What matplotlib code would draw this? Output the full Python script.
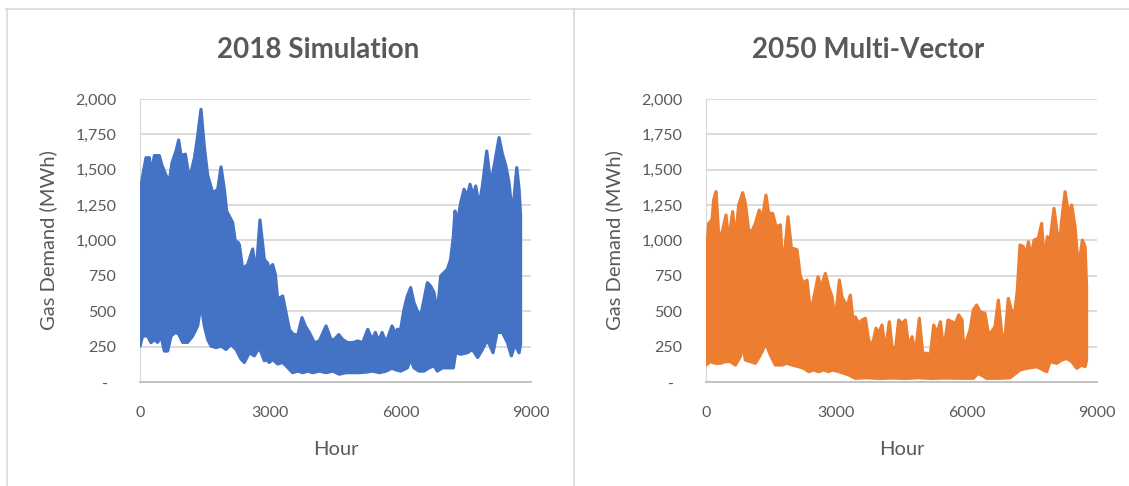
import numpy as np
import matplotlib.pyplot as plt
from matplotlib.lines import Line2D

plt.rcParams['font.family'] = ['Lato', 'DejaVu Sans']

# Envelope of the hourly gas demand (hour, MWh)
sim_upper_hours = [0, 30, 61, 138, 215, 260, 330, 445, 506, 599, 675, 737, 829, 890, 944, 1044, 1136, 1251,
                   1327, 1404, 1481, 1558, 1673, 1788, 1865, 1942, 1995, 2133, 2210, 2250, 2287, 2363, 2479,
                   2594, 2670, 2762, 2862, 2939, 2977, 3053, 3115, 3169, 3284, 3361, 3438, 3514, 3630, 3729,
                   3806, 3898, 4013, 4128, 4282, 4397, 4474, 4574, 4666, 4781, 4896, 5011, 5126, 5242, 5342,
                   5418, 5495, 5572, 5664, 5801, 5893, 5924, 6000, 6077, 6154, 6230, 6307, 6384, 6460, 6538,
                   6614, 6691, 6768, 6844, 6921, 6998, 7075, 7151, 7213, 7251, 7305, 7382, 7459, 7536, 7597,
                   7674, 7728, 7804, 7881, 7981, 8073, 8165, 8265, 8342, 8419, 8495, 8572, 8672, 8726, 8760]
sim_upper = [1314, 1400, 1456, 1585, 1585, 1470, 1600, 1600, 1530, 1460, 1420, 1550, 1632, 1710, 1600, 1610,
             1435, 1580, 1738, 1927, 1660, 1460, 1338, 1360, 1520, 1360, 1208, 1126, 961, 990, 970, 800, 830,
             940, 760, 1145, 865, 840, 800, 830, 760, 584, 608, 490, 372, 340, 330, 455, 395, 350, 278, 290,
             396, 300, 300, 335, 300, 278, 278, 290, 278, 372, 300, 350, 290, 350, 278, 396, 335, 372, 372,
             514, 608, 667, 560, 502, 467, 584, 702, 678, 632, 490, 749, 773, 796, 867, 1032, 1208, 1126,
             1267, 1362, 1315, 1397, 1315, 1385, 1245, 1385, 1632, 1397, 1550, 1727, 1610, 1530, 1408, 1173,
             1515, 1362, 1173]
sim_lower_hours = [0, 61, 176, 253, 330, 406, 483, 560, 637, 714, 813, 890, 982, 1097, 1212, 1327, 1404, 1481,
                   1558, 1634, 1750, 1865, 1980, 2095, 2210, 2325, 2402, 2517, 2632, 2747, 2862, 2900, 2977,
                   3053, 3169, 3284, 3361, 3514, 3630, 3745, 3860, 3975, 4128, 4282, 4436, 4589, 4743, 4896,
                   5050, 5203, 5357, 5510, 5664, 5817, 5847, 6000, 6154, 6230, 6307, 6422, 6538, 6653, 6768,
                   6844, 6960, 7075, 7213, 7267, 7382, 7536, 7651, 7773, 7881, 7958, 8027, 8126, 8219, 8342,
                   8458, 8549, 8626, 8726, 8760]
sim_lower = [254, 325, 325, 278, 300, 280, 325, 219, 219, 325, 350, 340, 280, 280, 325, 396, 550, 396, 300,
             254, 243, 254, 230, 266, 230, 162, 138, 207, 185, 243, 150, 160, 138, 160, 127, 138, 115, 66, 77,
             66, 77, 66, 77, 66, 77, 55, 66, 66, 66, 70, 77, 66, 77, 100, 90, 77, 100, 160, 100, 77, 77, 100,
             115, 77, 100, 100, 100, 207, 196, 207, 230, 173, 230, 278, 278, 207, 350, 350, 278, 185, 266,
             207, 266]

mv_upper_hours = [0, 61, 138, 176, 230, 291, 368, 460, 522, 614, 675, 752, 844, 906, 982, 1059, 1136, 1228,
                  1289, 1381, 1443, 1535, 1612, 1711, 1772, 1888, 1965, 2095, 2172, 2249, 2325, 2402, 2479,
                  2578, 2655, 2747, 2824, 2900, 2977, 3069, 3130, 3245, 3322, 3399, 3437, 3514, 3591, 3668,
                  3745, 3821, 3913, 3975, 4051, 4128, 4220, 4282, 4359, 4436, 4512, 4589, 4666, 4743, 4819,
                  4911, 4988, 5088, 5164, 5241, 5318, 5395, 5471, 5571, 5663, 5740, 5817, 5893, 5924, 6000,
                  6077, 6154, 6230, 6307, 6422, 6499, 6576, 6652, 6729, 6806, 6883, 6959, 7036, 7113, 7166,
                  7228, 7305, 7359, 7420, 7482, 7551, 7650, 7727, 7781, 7857, 7919, 8011, 8073, 8134, 8188,
                  8265, 8342, 8418, 8495, 8572, 8664, 8726, 8760]
mv_upper = [862, 1121, 1145, 1286, 1345, 1050, 1050, 1180, 1002, 1204, 1002, 1251, 1338, 1262, 1074, 1066,
            1121, 1215, 1145, 1321, 1192, 1192, 1097, 1110, 791, 1168, 947, 935, 744, 697, 720, 497, 590, 744,
            673, 767, 673, 603, 438, 720, 603, 532, 614, 391, 460, 414, 438, 450, 297, 250, 380, 344, 403,
            227, 426, 250, 227, 438, 414, 438, 250, 320, 203, 450, 203, 203, 190, 403, 344, 426, 227, 438,
            426, 414, 474, 438, 273, 297, 367, 509, 544, 497, 485, 344, 356, 391, 579, 344, 320, 591, 497,
            509, 650, 968, 956, 885, 991, 885, 1003, 1015, 1121, 862, 1027, 1003, 1227, 1074, 956, 1145,
            1345, 1192, 1251, 1097, 803, 1003, 956, 673]
mv_lower_hours = [0, 100, 215, 330, 445, 560, 675, 790, 844, 906, 1021, 1136, 1251, 1381, 1481, 1596, 1750,
                  1865, 1980, 2133, 2249, 2363, 2479, 2594, 2709, 2824, 2900, 3060, 3283, 3437, 3700, 4000,
                  4300, 4600, 4900, 5200, 5500, 5847, 6154, 6268, 6460, 6768, 7000, 7228, 7382, 7612, 7842,
                  7919, 8073, 8188, 8303, 8418, 8534, 8649, 8726, 8760]
mv_lower = [120, 144, 132, 132, 144, 144, 120, 179, 261, 155, 144, 132, 191, 273, 191, 120, 120, 132, 120,
            108, 97, 73, 85, 73, 85, 73, 85, 73, 50, 26, 30, 25, 28, 25, 30, 25, 28, 26, 26, 61, 26, 26, 30,
            85, 97, 108, 73, 144, 132, 155, 167, 144, 97, 120, 108, 155]

titles = ['2018 Simulation', '2050 Multi-Vector']
colors = ['#4472C4', '#ED7D31']
y_ticks = [0, 250, 500, 750, 1000, 1250, 1500, 1750, 2000]
y_labels = ['-  ', '250', '500', '750', '1,000', '1,250', '1,500', '1,750', '2,000']
x_ticks = [0, 3000, 6000, 9000]
x_labels = ['0', '3000', '6000', '9000']

W, H = 1129, 486
text_color = '#595959'
fig = plt.figure(figsize=(W / 100, H / 100), dpi=100)

panels = [
    (sim_upper_hours, sim_upper, sim_lower_hours, sim_lower),
    (mv_upper_hours, mv_upper, mv_lower_hours, mv_lower),
]
axes_left = [140, 706]
title_x = [318, 868]

for i, (uh, uv, lh, lv) in enumerate(panels):
    ax = fig.add_axes([axes_left[i] / W, (H - 382) / H, 391 / W, 283 / H])
    xs = np.concatenate([uh, lh[::-1]])
    ys = np.concatenate([uv, lv[::-1]])
    ax.fill(xs, ys, facecolor=colors[i], edgecolor=colors[i], lw=2.3, joinstyle='round', zorder=3)

    ax.set_xlim(0, 9000)
    ax.set_ylim(0, 2000)
    ax.set_yticks(y_ticks)
    ax.set_yticklabels(y_labels)
    ax.set_xticks(x_ticks)
    ax.set_xticklabels(x_labels)
    ax.tick_params(length=0, labelsize=11.5, labelcolor=text_color)
    ax.tick_params(axis='y', pad=17)
    ax.tick_params(axis='x', pad=17)
    ax.grid(axis='y', color='#D9D9D9', lw=1.3)
    ax.set_axisbelow(True)
    for s in ['top', 'right']:
        ax.spines[s].set_visible(False)
    ax.spines['left'].set_color('#D9D9D9')
    ax.spines['bottom'].set_color('#BFBFBF')
    ax.spines['bottom'].set_linewidth(1.3)

    ax.set_ylabel('Gas Demand (MWh)', fontsize=14.5, color=text_color)
    ax.yaxis.set_label_coords((48 + 566 * i - axes_left[i]) / 391, 0.5)
    ax.set_xlabel('Hour', fontsize=14.5, color=text_color)
    ax.xaxis.set_label_coords(0.5, (382 - 449) / 283)
    ax.xaxis.label.set_va('center')
    ax.yaxis.label.set_va('center')

    fig.text(title_x[i] / W, 1 - 50 / H, titles[i], ha='center', va='center',
             fontsize=20, fontweight='bold', color=text_color)

# frame lines around the two chart areas
frame = '#D9D9D9'
fig.add_artist(Line2D([6 / W, 1], [1 - 9 / H, 1 - 9 / H], color=frame, lw=1.2))
fig.add_artist(Line2D([6.5 / W, 6.5 / W], [0, 1 - 9 / H], color=frame, lw=1.2))
fig.add_artist(Line2D([573.5 / W, 573.5 / W], [0, 1 - 9 / H], color=frame, lw=1.2))

fig.savefig('out.png', dpi=100)
